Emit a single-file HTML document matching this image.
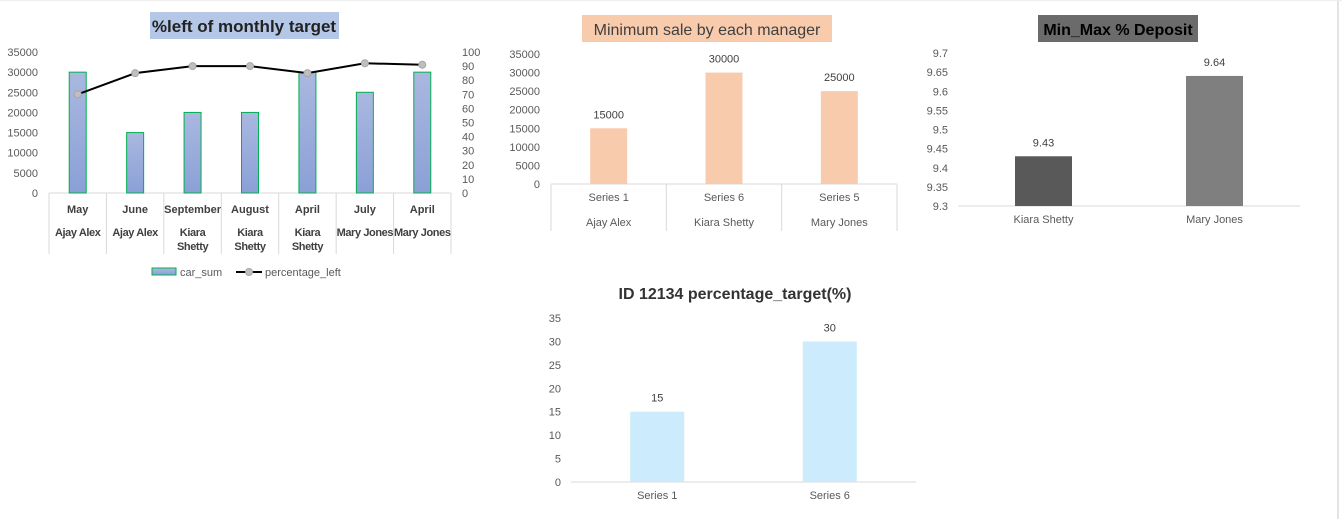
<!DOCTYPE html>
<html><head><meta charset="utf-8">
<style>
html,body{margin:0;padding:0;background:#fff;width:1342px;height:519px;overflow:hidden}
svg{display:block;font-family:"Liberation Sans",Arial,sans-serif}
</style></head>
<body>
<svg id="s" width="1342" height="519" xmlns="http://www.w3.org/2000/svg">
<defs>
<linearGradient id="bg1" x1="0" y1="0" x2="0" y2="1"><stop offset="0" stop-color="#aab8e0"/><stop offset="1" stop-color="#8aa0d6"/></linearGradient>
</defs>
<line x1="1338" y1="0" x2="1338" y2="519" stroke="#c8c8c8" stroke-width="1"/>
<line x1="0" y1="0.5" x2="1342" y2="0.5" stroke="#eee"/>
<rect x="150" y="12" width="189" height="27" fill="#B4C7E7"/>
<text x="244" y="32" text-anchor="middle" font-size="17" font-weight="bold" fill="#222">%left of monthly target</text>
<rect x="582" y="15" width="250" height="27" fill="#F8CBAD"/>
<text x="707" y="35" text-anchor="middle" font-size="16" fill="#404040">Minimum sale by each manager</text>
<rect x="1038" y="15" width="160" height="27" fill="#6b6b6b"/>
<text x="1118" y="35" text-anchor="middle" font-size="16" font-weight="bold" fill="#000">Min_Max % Deposit</text>
<text x="735" y="299" text-anchor="middle" font-size="16" font-weight="bold" fill="#333">ID 12134 percentage_target(%)</text>
<g id="g1"></g><g id="g2"></g><g id="g3"></g><g id="g4"></g>
</svg>
<script>
const c1Months=["May","June","September","August","April","July","April"];
const c1Names=[["Ajay Alex"],["Ajay Alex"],["Kiara","Shetty"],["Kiara","Shetty"],["Kiara","Shetty"],["Mary Jones"],["Mary Jones"]];
const c1Sum=[30000,15000,20000,20000,30000,25000,30000];
const c1Pct=[70,85,90,90,85,92,91];
const c1LeftTicks=[0,5000,10000,15000,20000,25000,30000,35000];
const c1RightTicks=[0,10,20,30,40,50,60,70,80,90,100];
const c2Cats=["Series 1","Series 6","Series 5"];
const c2Names=["Ajay Alex","Kiara Shetty","Mary Jones"];
const c2Vals=[15000,30000,25000];
const c2Ticks=[0,5000,10000,15000,20000,25000,30000,35000];
const c3Cats=["Kiara Shetty","Mary Jones"];
const c3Vals=[9.43,9.64];
const c3Ticks=[9.3,9.35,9.4,9.45,9.5,9.55,9.6,9.65,9.7];
const c4Cats=["Series 1","Series 6"];
const c4Vals=[15,30];
const c4Ticks=[0,5,10,15,20,25,30,35];
const NS="http://www.w3.org/2000/svg";
function mk(g,tag,at,txt){const e=document.createElementNS(NS,tag);for(const k in at)e.setAttribute(k,at[k]);if(txt!==undefined)e.textContent=txt;g.appendChild(e);return e;}
// Chart 1
(function(){
const g=document.getElementById('g1');
const x0=49,x1=451,y0=193,yT=52;
const yL=v=>y0-(v/35000)*(y0-yT), yR=v=>y0-(v/100)*(y0-yT);
const bw=(x1-x0)/c1Sum.length, xc=i=>x0+bw*(i+0.5);
c1LeftTicks.forEach(t=>{const e=mk(g,'text',{x:38,y:yL(t)+4,'text-anchor':'end','font-size':11,fill:'#595959'},t);

});
c1RightTicks.forEach(t=>{const e=mk(g,'text',{x:462,y:yR(t)+4,'font-size':11,fill:'#595959'},t);

});
const ax=mk(g,'line',{x1:x0,y1:y0,x2:x1,y2:y0,stroke:'#d9d9d9'});


for(let i=0;i<=c1Sum.length;i++){const l=mk(g,'line',{x1:x0+bw*i,y1:y0,x2:x0+bw*i,y2:254,stroke:'#d9d9d9'});

}
c1Sum.forEach((v,i)=>{const r=mk(g,'rect',{x:xc(i)-8.5,y:yL(v),width:17,height:y0-yL(v),fill:'url(#bg1)',stroke:'#00B050','stroke-width':1});


const m=mk(g,'text',{x:xc(i),y:213,'text-anchor':'middle','font-size':11,'font-weight':'bold',fill:'#404040'},c1Months[i]);


c1Names[i].forEach((n,j)=>{const t=mk(g,'text',{x:xc(i),y:236+j*14,'text-anchor':'middle','font-size':11,'font-weight':'bold',fill:'#404040','letter-spacing':'-0.4'},n);

});});
const pl=mk(g,'polyline',{points:c1Pct.map((v,i)=>xc(i)+','+yR(v)).join(' '),fill:'none',stroke:'#000','stroke-width':2});


c1Pct.forEach((v,i)=>{const c=mk(g,'circle',{cx:xc(i),cy:yR(v),r:3.5,fill:'#bfbfbf',stroke:'#a6a6a6'});

});
const lr=mk(g,'rect',{x:152,y:268,width:24,height:7,fill:'url(#bg1)',stroke:'#00B050'});


const lt=mk(g,'text',{x:180,y:276,'font-size':11,fill:'#595959'},'car_sum');


const ll=mk(g,'line',{x1:236,y1:272,x2:262,y2:272,stroke:'#000','stroke-width':2});


const lc=mk(g,'circle',{cx:249,cy:272,r:3.5,fill:'#bfbfbf',stroke:'#a6a6a6'});


const lt2=mk(g,'text',{x:265,y:276,'font-size':11,fill:'#595959'},'percentage_left');


})();
function simple(gid,cats,vals,ticks,o){
const g=document.getElementById(gid);
const lo=ticks[0],hi=ticks[ticks.length-1];
const y=v=>o.y0-((v-lo)/(hi-lo))*(o.y0-o.yT);
const bw=(o.x1-o.x0)/cats.length, xc=i=>o.x0+bw*(i+0.5);
ticks.forEach(t=>{const e=mk(g,'text',{x:o.lx,y:y(t)+4,'text-anchor':'end','font-size':11,fill:'#595959'},t);

});
const ax=mk(g,'line',{x1:o.x0,y1:o.y0,x2:o.x1,y2:o.y0,stroke:'#d9d9d9'});


if(o.div){for(let i=0;i<=cats.length;i++){const l=mk(g,'line',{x1:o.x0+bw*i,y1:o.y0,x2:o.x0+bw*i,y2:o.div,stroke:'#d9d9d9'});

}}
vals.forEach((v,i)=>{const col=Array.isArray(o.fill)?o.fill[i]:o.fill;
const r=mk(g,'rect',{x:xc(i)-o.w/2,y:y(v),width:o.w,height:o.y0-y(v),fill:col});


const t=mk(g,'text',{x:xc(i),y:y(v)-10,'text-anchor':'middle','font-size':11,fill:'#404040'},v);


const c=mk(g,'text',{x:xc(i),y:o.y0+17,'text-anchor':'middle','font-size':11,fill:'#595959'},cats[i]);


if(o.names){const n=mk(g,'text',{x:xc(i),y:o.y0+42,'text-anchor':'middle','font-size':11,fill:'#595959'},o.names[i]);

}});
}
simple('g2',c2Cats,c2Vals,c2Ticks,{x0:551,x1:897,y0:184,yT:54,lx:540,w:37,fill:'#F8CBAD',div:231,names:c2Names});
simple('g3',c3Cats,c3Vals,c3Ticks,{x0:958,x1:1300,y0:206,yT:53,lx:948,w:57,fill:['#595959','#7f7f7f']});
simple('g4',c4Cats,c4Vals,c4Ticks,{x0:571,x1:916,y0:482,yT:318,lx:561,w:54,fill:'#CCEBFC'});
</script>
</body></html>
